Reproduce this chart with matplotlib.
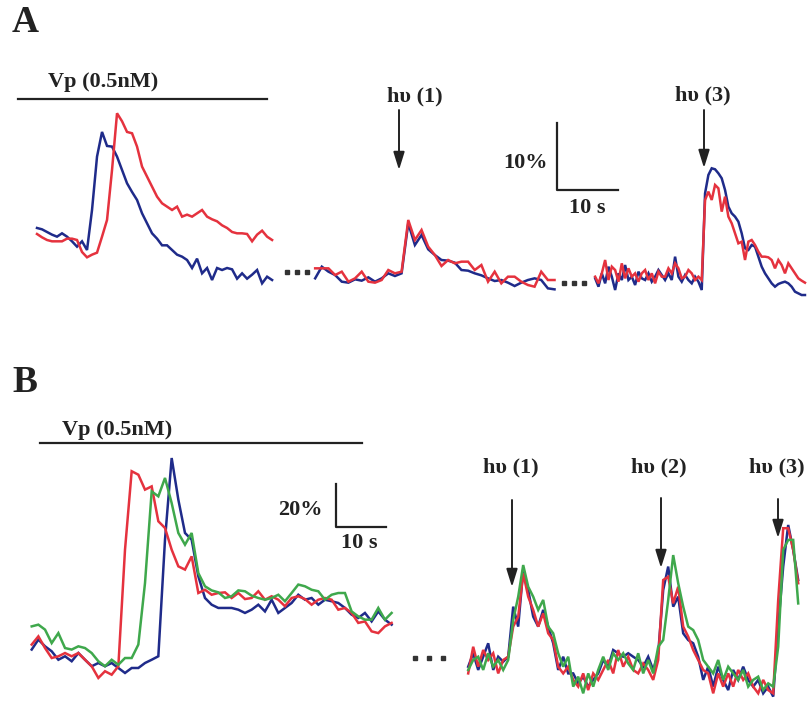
import numpy as np
import matplotlib
matplotlib.use('Agg')
import matplotlib.pyplot as plt

# ---- panel A traces (% change, one value per sample) ----
a1_blue = [4.8, 4.6, 4.2, 3.8, 3.5, 4.0, 3.5, 2.8, 2.0, 2.8, 1.5, 7.5, 15.5, 19.2, 17.1, 17.0,
           15.5, 13.5, 11.5, 10.2, 9.0, 7.0, 5.5, 4.0, 3.2, 2.2, 2.2, 1.5, 0.8, 0.5, 0.0, -1.2,
           0.2, -2.0, -1.2, -3.0, -1.2, -1.5, -1.2, -1.4, -2.8, -2.0, -2.8, -2.2, -1.5, -3.5, -2.5, -3.0]
a1_red = [3.9, 3.4, 3.0, 2.8, 2.8, 2.8, 3.2, 3.2, 3.0, 1.2, 0.4, 0.8, 1.1, 3.5, 6.0, 13.5,
          22.0, 20.8, 19.2, 19.0, 17.0, 14.0, 12.5, 11.0, 9.5, 8.5, 8.0, 7.5, 8.0, 6.5, 6.8, 6.5,
          7.0, 7.5, 6.5, 6.1, 5.8, 5.2, 4.8, 4.2, 4.0, 4.0, 3.9, 2.8, 3.8, 4.4, 3.5, 3.0]
a2_blue = [-2.75, -1.0, -1.75, -2.25, -3.25, -3.4, -2.9, -3.1, -2.6, -3.25, -2.75, -2.0, -2.4,
           -2.0, 5.5, 2.25, 3.75, 1.6, 0.75, 0.0, -0.1, -0.4, -1.5, -1.6, -2.0, -2.3, -2.75,
           -3.15, -3.0, -3.4, -3.9, -3.4, -3.0, -2.75, -3.0, -4.25, -4.4]
a2_red = [-1.25, -1.25, -1.25, -2.25, -1.75, -3.25, -2.75, -1.75, -3.25, -3.4, -3.0, -1.5, -2.0,
          -1.75, 6.0, 3.0, 4.5, 2.0, 0.75, -0.9, 0.0, -0.5, -0.25, -0.25, -1.5, -0.75, -3.25,
          -1.75, -3.5, -2.5, -2.5, -3.25, -3.75, -4.0, -1.75, -3.0, -3.0]
a3_blue = [-2.75, -4.0, -2.0, -3.5, -1.0, -2.5, -4.5, -2.0, -3.0, -0.75, -3.0, -2.5, -3.75, -1.75,
           -2.75, -3.0, -2.0, -3.25, -2.5, -1.5, -2.25, -3.0, -2.0, -3.0, 0.5, -2.5, -3.25, -2.25,
           -3.0, -3.5, -2.5, -3.25, -4.5,
           10.0, 12.75, 13.75, 13.6, 13.0, 12.25, 10.5, 8.0, 7.0, 6.5, 5.75, 4.0, 1.75, 1.5, 2.25,
           2.0, 0.5, -1.0, -2.0, -2.75, -3.5, -4.0, -3.6, -3.4, -3.25, -3.5, -4.0, -4.75, -5.0,
           -5.25, -5.25]
a3_red = [-2.5, -3.5, -2.0, 0.0, -3.0, -1.0, -1.5, -3.25, -0.5, -2.75, -1.25, -2.5, -2.0, -3.25,
          -2.0, -1.5, -3.0, -2.0, -3.5, -1.75, -2.5, -2.5, -1.25, -2.0, -0.5, -1.25, -2.75, -2.5,
          -1.5, -2.0, -3.0, -2.5, -3.0,
          9.0, 10.25, 9.0, 11.25, 10.75, 7.25, 9.5, 6.5, 5.5, 4.0, 2.5, 2.75, 0.0, 2.75, 3.0,
          2.25, 1.25, 0.5, 0.5, 0.4, 0.0, -1.25, 0.0, -0.75, -2.0, -0.5, -1.25, -2.0, -2.75,
          -3.1, -3.4]

# ---- panel B traces ----
b1_blue = [6.2, 10.8, 7.7, 5.4, 1.5, 3.1, 0.8, 4.6, 1.5, -1.5, 0.0, -1.5, 0.0, -2.3, -4.6, -2.3,
           -2.3, 0.0, 1.5, 3.1, 56.9, 94.6, 75.4, 60.0, 56.9, 40.0, 30.0, 26.9, 25.4, 25.4, 25.4,
           24.6, 23.1, 24.6, 26.9, 23.8, 29.2, 23.1, 25.4, 27.7, 31.5, 29.2, 30.0, 26.9, 29.2,
           28.5, 27.7, 25.4, 22.3, 20.8, 23.1, 19.2, 23.8, 20.0, 17.7]
b1_red = [8.5, 12.3, 6.9, 2.3, 3.1, 4.6, 3.1, 4.6, 1.5, -1.5, -6.9, -3.8, -5.4, -1.5, 52.3, 88.5,
          86.9, 80.0, 81.5, 65.4, 62.3, 52.3, 44.6, 43.1, 49.2, 32.3, 33.8, 31.5, 32.3, 32.6,
          30.0, 32.3, 29.5, 30.0, 33.1, 29.2, 30.8, 29.2, 26.2, 30.0, 30.8, 29.5, 26.9, 29.2,
          30.0, 29.2, 24.6, 25.4, 23.1, 18.5, 19.2, 14.6, 13.8, 16.9, 18.5]
b1_green = [16.9, 17.7, 15.4, 9.2, 13.8, 6.9, 6.2, 7.7, 6.9, 4.6, 0.8, -1.5, 1.5, -0.8, 2.3, 2.3,
            8.5, 36.9, 79.2, 76.9, 85.4, 73.8, 60.0, 54.6, 60.0, 41.5, 35.4, 33.5, 32.6, 30.0,
            30.8, 33.5, 33.1, 31.1, 30.0, 29.2, 30.0, 31.5, 28.5, 32.3, 36.2, 35.4, 33.8, 33.1,
            29.2, 31.5, 32.3, 32.3, 23.8, 21.5, 20.0, 20.0, 25.4, 20.0, 23.1]
b2_blue = [-1.7, 4.5, -3.2, 2.9, 9.1, -3.2, 2.9, 0.6, 2.9, 26.0, 16.8, 42.9, 33.7, 21.4, 16.8,
           24.5, 16.8, 9.1, -3.2, 2.9, -4.8, -4.8, -9.4, -6.3, -10.9, -7.8, -4.8, 1.4, -1.7, 6.0,
           4.5, 2.9, 4.5, 2.9, 1.4, -1.7, 2.9, -3.2, 4.5, 33.7, 44.5, 26.0, 30.6, 13.7, 10.6, 9.1,
           2.9, -7.8, -1.7, -10.9, -1.7, -7.8, -12.5, -3.2, -7.8, -1.7, -7.8, -10.9, -7.8, -14.0,
           -10.9, -15.5, 16.8, 44.5, 63.7, 52.2, 38.3]
b2_red = [-4.8, 7.5, -1.7, 6.0, 1.4, 4.5, -4.8, 1.4, 2.9, 16.8, 21.4, 41.4, 30.6, 24.5, 16.8,
          22.9, 13.7, 10.6, -1.7, -4.8, -1.7, -7.8, -10.9, -4.8, -12.5, -4.8, -7.8, -3.2, 1.4,
          -4.8, 6.0, -1.7, 2.9, -3.2, -4.8, -0.2, -3.2, -7.8, 1.4, 38.3, 39.8, 27.5, 35.2, 16.8,
          12.2, 6.0, 1.4, -3.2, -4.8, -14.0, -4.8, -10.9, -4.8, -10.9, -3.2, -7.8, -4.8, -10.9,
          -14.0, -7.8, -12.5, -14.0, 29.1, 62.2, 62.2, 52.2, 36.8]
b2_green = [-3.2, 1.4, 2.9, -3.2, 4.5, -1.7, 1.4, -3.2, 1.4, 19.8, 30.6, 45.2, 35.2, 30.6, 24.5,
            29.1, 16.8, 13.7, 4.5, -1.7, 2.9, -10.9, -6.3, -14.0, -4.8, -10.9, -3.2, 2.9, -3.2,
            4.5, 1.4, 4.5, -0.2, -3.2, 4.5, -4.8, 1.4, -4.8, 7.5, 10.6, 29.1, 49.8, 36.8, 26.0,
            16.8, 15.2, 10.6, 1.4, -1.7, -4.8, 1.4, -7.8, -1.7, -4.8, -7.8, -3.2, -10.9, -7.8,
            -6.3, -12.5, -9.4, -10.9, 7.5, 52.2, 56.8, 56.8, 27.5]

# segment start time (s) and sample interval (s)
a_starts = [0.0, 45.6, 91.5]
a_dt = [0.82, 1.09, 0.546]
b_starts = [0.0, 87.3]
b_dt = [1.333, 1.0]

BLUE = '#1f2b8a'
RED = '#e5323e'
GREEN = '#3fa84c'
INK = '#222222'
W, H = 807, 706
font = dict(family='Liberation Serif', weight='bold', color=INK)

fig = plt.figure(figsize=(W / 100, H / 100), dpi=100)


def make_panel(top, bottom, x0, y0, pps, ppp):
    # x0, y0: pixel spot of t=0 / 0 %; pps: px per s; ppp: px per %
    ax = fig.add_axes([0, 1 - bottom / H, 1, (bottom - top) / H])
    ax.set_xlim(-x0 / pps, (W - x0) / pps)
    ax.set_ylim((y0 - bottom) / ppp, (y0 - top) / ppp)
    ax.axis('off')

    def px(x, y):
        return (x - x0) / pps, (y0 - y) / ppp
    return ax, px


def trace(ax, start, dt, vals, color):
    t = start + np.arange(len(vals)) * dt
    ax.plot(t, vals, color=color, lw=1.8, solid_joinstyle='miter')


def arrow(ax, tail, tip):
    ax.annotate('', xy=tip, xytext=tail,
                arrowprops=dict(arrowstyle='-|>,head_length=0.9,head_width=0.28', lw=1.4,
                                color=INK, mutation_scale=12, shrinkA=0, shrinkB=0))


def dots(ax, pts):
    xs, ys = zip(*pts)
    ax.plot(xs, ys, 's', ms=3.2, color='#333333', ls='none')


# ---------------- panel A ----------------
axA, pA = make_panel(0, 353, 37, 260, 6.1, 6.67)
for st, dt, vb, vr in zip(a_starts, a_dt, [a1_blue, a2_blue, a3_blue], [a1_red, a2_red, a3_red]):
    trace(axA, st, dt, vb, BLUE)
    trace(axA, st, dt, vr, RED)

axA.text(*pA(12, 22), 'A', fontsize=27, ha='left', va='center', **font)
axA.text(*pA(103, 82), 'Vp (0.5nM)', fontsize=16, ha='center', va='center', **font)
x1, y1 = pA(18, 99)
x2, _ = pA(267, 99)
axA.plot([x1, x2], [y1, y1], color=INK, lw=1.6)

axA.text(*pA(415, 96), 'h\u03c5 (1)', fontsize=16, ha='center', va='center', **font)
arrow(axA, pA(399, 110), pA(399, 170))
axA.text(*pA(703, 95), 'h\u03c5 (3)', fontsize=16, ha='center', va='center', **font)
arrow(axA, pA(704, 110), pA(704, 168))

# scale bar 10 % / 10 s
sx, sy = pA(557, 190)
axA.plot([sx, sx, sx + 10], [sy + 10, sy, sy], color=INK, lw=1.6)
axA.text(*pA(548, 163), '10%', fontsize=16, ha='right', va='center', **font)
axA.text(*pA(587, 208), '10 s', fontsize=16, ha='center', va='center', **font)

dots(axA, [pA(287, 272), pA(297, 272), pA(307, 272)])
dots(axA, [pA(564, 283), pA(574, 283), pA(584, 283)])

# ---------------- panel B ----------------
axB, pB = make_panel(353, 706, 31.7, 663, 5.0, 2.167)
for st, dt, vb, vr, vg in zip(b_starts, b_dt, [b1_blue, b2_blue], [b1_red, b2_red],
                              [b1_green, b2_green]):
    trace(axB, st, dt, vb, BLUE)
    trace(axB, st, dt, vr, RED)
    trace(axB, st, dt, vg, GREEN)

axB.text(*pB(12, 382), 'B', fontsize=27, ha='left', va='center', **font)
axB.text(*pB(117, 430), 'Vp (0.5nM)', fontsize=16, ha='center', va='center', **font)
x1, y1 = pB(40, 443)
x2, _ = pB(362, 443)
axB.plot([x1, x2], [y1, y1], color=INK, lw=1.6)

for lab, cx, ax_x, tail, tip in [('h\u03c5 (1)', 511, 512, 500, 587),
                                 ('h\u03c5 (2)', 659, 661, 498, 568),
                                 ('h\u03c5 (3)', 777, 778, 499, 538)]:
    axB.text(*pB(cx, 467), lab, fontsize=16, ha='center', va='center', **font)
    arrow(axB, pB(ax_x, tail), pB(ax_x, tip))

# scale bar 20 % / 10 s
sx, sy = pB(336, 527)
axB.plot([sx, sx, sx + 10], [sy + 20, sy, sy], color=INK, lw=1.6)
axB.text(*pB(323, 510), '20%', fontsize=16, ha='right', va='center', **font)
axB.text(*pB(359, 543), '10 s', fontsize=16, ha='center', va='center', **font)

dots(axB, [pB(415, 658), pB(429, 658), pB(443, 658)])

fig.savefig('out.png', dpi=100, facecolor='white')
